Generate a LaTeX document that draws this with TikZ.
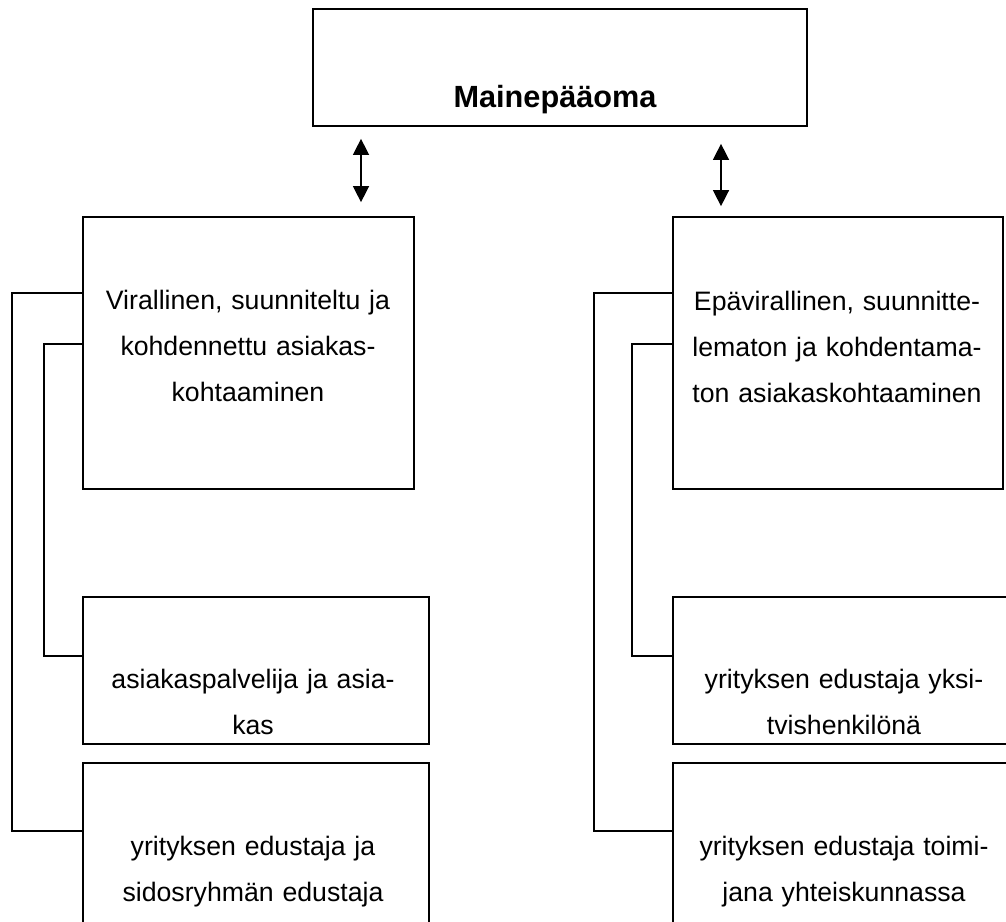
\documentclass[tikz,border=0pt]{standalone}
\usepackage{fontspec}
\setmainfont{Liberation Sans}
\usetikzlibrary{arrows.meta,fit}
\begin{document}
\begin{tikzpicture}[x=0.75pt,y=-0.75pt,
  box/.style={draw, rectangle, line width=1.3pt, inner sep=0pt},
  link/.style={line width=1pt},
  dbl/.style={line width=1.1pt,
    {Triangle[width=12pt,length=12pt]}-{Triangle[width=12pt,length=12pt]}},
  txt/.style={anchor=base, inner sep=0pt, align=center, text width=250pt,
    font=\fontsize{20}{34.5}\selectfont},
  title/.style={anchor=base, inner sep=0pt,
    font=\fontsize{23}{27}\selectfont\bfseries},
]
\useasboundingbox (0,0) rectangle (1006,921);
\clip (0,0) rectangle (1006,921);

% boxes
\node[box, fit={(313,9) (807,126)}]   (top) {};
\node[box, fit={(83,217) (414,489)}]  (L0) {};
\node[box, fit={(673,217) (1003,489)}] (R0) {};
\node[box, fit={(83,597) (429,744)}]  (L1) {};
\node[box, fit={(83,763) (429,945)}]  (L2) {};
\node[box, fit={(673,597) (1015,744)}] (R1) {};
\node[box, fit={(673,763) (1015,945)}] (R2) {};

% texts
\node[title] (tTop) at (555,107) {Mainepääoma};
\node[txt] (tL0) at (248,309) {Virallinen, suunniteltu ja\\kohdennettu asiakas-\\kohtaaminen};
\node[txt] (tR0) at (837,310) {Epävirallinen, suunnitte-\\lematon ja kohdentama-\\ton asiakaskohtaaminen};
\node[txt] (tL1) at (253,688) {asiakaspalvelija ja asia-\\kas};
\node[txt] (tL2) at (253,855) {yrityksen edustaja ja\\sidosryhmän edustaja};
\node[txt] (tR1) at (844,688) {yrityksen edustaja yksi-\\tvishenkilönä};
\node[txt] (tR2) at (844,855) {yrityksen edustaja toimi-\\jana yhteiskunnassa};

% helper coordinates for the arrows and the bracket lines
\coordinate (xL) at (361,0);
\coordinate (xR) at (721,0);
\coordinate (busLo) at (12,0);
\coordinate (busLi) at (44,0);
\coordinate (busRo) at (594,0);
\coordinate (busRi) at (632,0);
\coordinate (jo) at (0,293);
\coordinate (ji) at (0,344);
\coordinate (ki) at (0,656);
\coordinate (ko) at (0,831);

% two-way arrows
\draw[dbl, shorten <=9pt, shorten >=10.5pt] (top.south -| xL) -- (L0.north -| xL);
\draw[dbl, shorten <=12.75pt, shorten >=7.5pt] (top.south -| xR) -- (R0.north -| xR);

% bracket lines
\draw[link] (L0.west |- jo) -- (busLo |- jo) -- (busLo |- ko) -- (L2.west |- ko);
\draw[link] (L0.west |- ji) -- (busLi |- ji) -- (busLi |- ki) -- (L1.west |- ki);
\draw[link] (R0.west |- jo) -- (busRo |- jo) -- (busRo |- ko) -- (R2.west |- ko);
\draw[link] (R0.west |- ji) -- (busRi |- ji) -- (busRi |- ki) -- (R1.west |- ki);
\end{tikzpicture}
\end{document}
